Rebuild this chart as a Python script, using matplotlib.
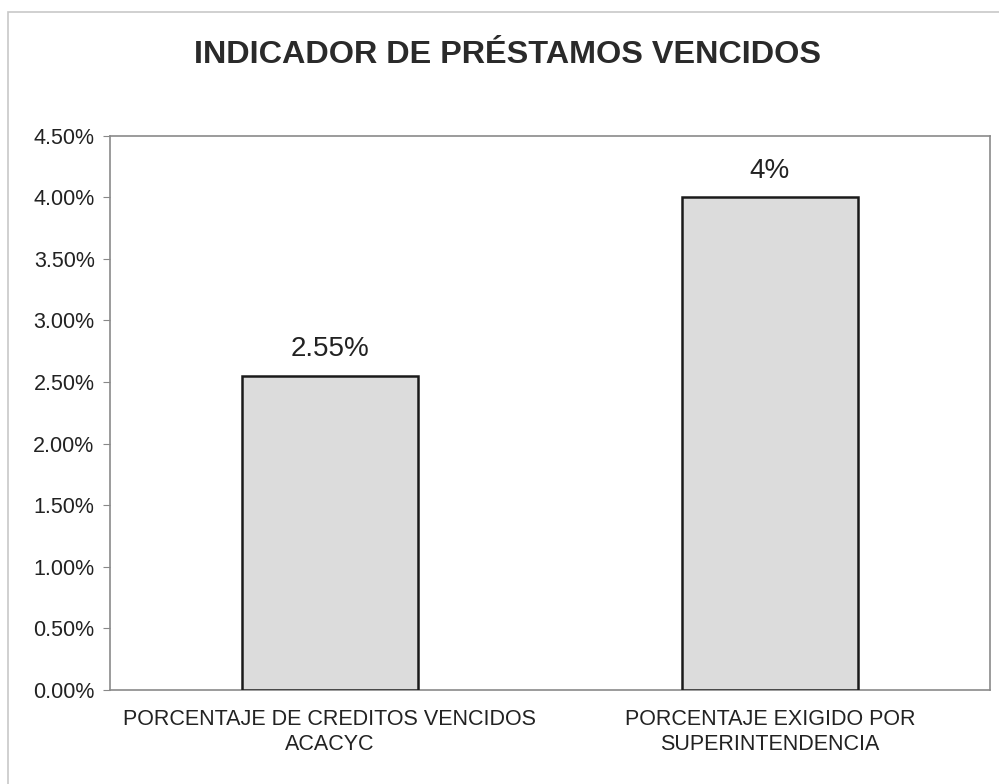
import matplotlib
matplotlib.use("Agg")
import matplotlib.pyplot as plt
from matplotlib.patches import Rectangle
from matplotlib.ticker import FuncFormatter

plt.rcParams["font.family"] = ["Liberation Sans", "DejaVu Sans"]

# data
categories = ["PORCENTAJE DE CREDITOS VENCIDOS\nACACYC", "PORCENTAJE EXIGIDO POR\nSUPERINTENDENCIA"]
values = [2.55, 4.0]
value_labels = ["2.55%", "4%"]
yticks = [0, 0.5, 1.0, 1.5, 2.0, 2.5, 3.0, 3.5, 4.0, 4.5]

fig = plt.figure(figsize=(9.99, 7.84), dpi=100)
ax = fig.add_axes([0.110, 0.120, 0.881, 0.707])

# outer chart border
fig.patches.append(Rectangle((0.008, -0.05), 1.1, 1.035, transform=fig.transFigure,
                             fill=False, edgecolor="#c8c8c8", linewidth=1.2))

x = range(len(categories))
ax.bar(x, values, width=0.4, color="#dcdcdc", edgecolor="#1a1a1a", linewidth=1.8, zorder=3)

for xi, v, lab in zip(x, values, value_labels):
    ax.text(xi, v + 0.215, lab, ha="center", va="center", fontsize=20, color="#222222")

ax.set_xlim(-0.5, 1.5)
ax.set_ylim(0, 4.5)
ax.set_yticks(yticks)
ax.yaxis.set_major_formatter(FuncFormatter(lambda v, p: f"{v:.2f}%"))
ax.set_xticks(list(x))
ax.set_xticklabels(categories, fontsize=15.5, color="#222222", linespacing=1.25)
ax.tick_params(axis="x", length=0, pad=14)
ax.tick_params(axis="y", labelsize=15.5, labelcolor="#222222", length=5, color="#888888", pad=6)

for s in ax.spines.values():
    s.set_color("#8a8a8a")
    s.set_linewidth(1.2)

fig.text(0.508, 0.930, "INDICADOR DE PRÉSTAMOS VENCIDOS", ha="center", va="center",
         fontsize=23.3, fontweight="bold", color="#2a2a2a")

fig.savefig("out.png", dpi=100)
